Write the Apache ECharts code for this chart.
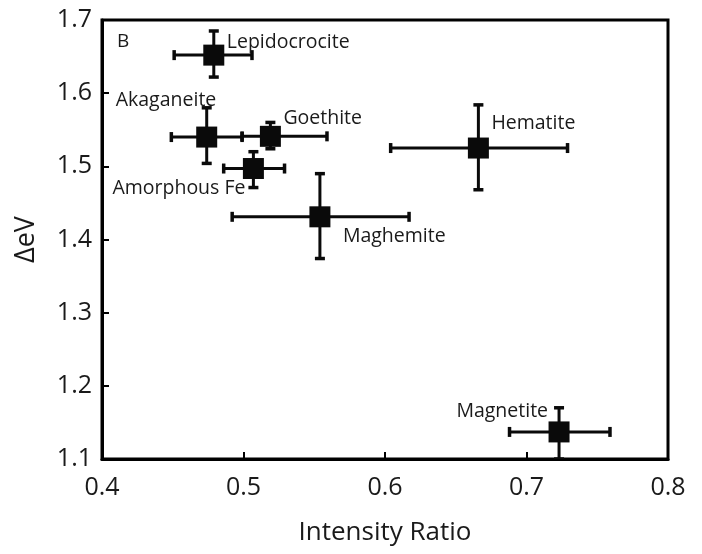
<!DOCTYPE html>
<html>
<head>
<meta charset="utf-8">
<script src="https://cdn.jsdelivr.net/npm/echarts@6/dist/echarts.min.js"></script>
<style>html,body{margin:0;padding:0;background:#fff;}#chart{width:702px;height:554px;}</style>
</head>
<body>
<div id="chart"></div>
<script>
// ---- data ----
var names    = ['Lepidocrocite', 'Akaganeite', 'Goethite', 'Amorphous Fe', 'Hematite', 'Maghemite', 'Magnetite'];
var ratio    = [0.479, 0.474, 0.519, 0.507, 0.666, 0.554, 0.723];
var ratioLo  = [0.451, 0.449, 0.499, 0.486, 0.604, 0.492, 0.688];
var ratioHi  = [0.506, 0.499, 0.559, 0.529, 0.729, 0.617, 0.759];
var deltaEV  = [1.652, 1.540, 1.541, 1.497, 1.525, 1.431, 1.137];
var deltaLo  = [1.622, 1.504, 1.524, 1.471, 1.468, 1.374, 1.100];
var deltaHi  = [1.685, 1.580, 1.560, 1.520, 1.584, 1.490, 1.170];
var xTicks   = [0.4, 0.5, 0.6, 0.7, 0.8];
var yTicks   = [1.1, 1.2, 1.3, 1.4, 1.5, 1.6, 1.7];
var panelLabel = 'B';

// ---- label placement (style only) ----
var labelOffsets = [[13, -13], [-91, -37], [13, -18], [-141, 20], [13, -25], [23, 20], [-11, -20]];
var labelAligns  = ['left', 'left', 'left', 'left', 'left', 'left', 'right'];

var chart = echarts.init(document.getElementById('chart'), null, {renderer: 'canvas'});

var errData = names.map(function (n, i) {
  return [ratio[i], deltaEV[i], ratioLo[i], ratioHi[i], deltaLo[i], deltaHi[i]];
});
var ptData = names.map(function (n, i) {
  return {
    name: n,
    value: [ratio[i], deltaEV[i]],
    label: { offset: labelOffsets[i], align: labelAligns[i] }
  };
});

var FONT = '"Open Sans", "Noto Sans", sans-serif';

function renderErr(params, api) {
  var c  = api.coord([api.value(0), api.value(1)]);
  var xl = api.coord([api.value(2), api.value(1)]);
  var xh = api.coord([api.value(3), api.value(1)]);
  var yl = api.coord([api.value(0), api.value(4)]);
  var yh = api.coord([api.value(0), api.value(5)]);
  var cap = 5;
  var st = { stroke: '#0a0a0a', lineWidth: 3 };
  var capSt = { stroke: '#0a0a0a', lineWidth: 3.5 };
  return {
    type: 'group',
    children: [
      { type: 'line', shape: { x1: xl[0], y1: c[1], x2: xh[0], y2: c[1] }, style: st },
      { type: 'line', shape: { x1: c[0], y1: yl[1], x2: c[0], y2: yh[1] }, style: st },
      { type: 'line', shape: { x1: xl[0], y1: c[1] - cap, x2: xl[0], y2: c[1] + cap }, style: capSt },
      { type: 'line', shape: { x1: xh[0], y1: c[1] - cap, x2: xh[0], y2: c[1] + cap }, style: capSt },
      { type: 'line', shape: { x1: c[0] - cap, y1: yl[1], x2: c[0] + cap, y2: yl[1] }, style: capSt },
      { type: 'line', shape: { x1: c[0] - cap, y1: yh[1], x2: c[0] + cap, y2: yh[1] }, style: capSt }
    ]
  };
}

var option = {
  backgroundColor: '#fff',
  animation: false,
  title: {
    text: panelLabel,
    left: 112, top: 27,
    textStyle: { fontFamily: FONT, fontSize: 19, fontWeight: 'normal', color: '#1a1a1a' }
  },
  grid: {
    left: 102, right: 34, top: 20, bottom: 95,
    show: true, borderColor: '#000', borderWidth: 3, backgroundColor: 'transparent'
  },
  xAxis: {
    type: 'value',
    min: xTicks[0], max: xTicks[xTicks.length - 1], interval: 0.1,
    name: 'Intensity Ratio',
    nameLocation: 'middle', nameGap: 61,
    nameTextStyle: { fontFamily: FONT, fontSize: 26, color: '#1a1a1a' },
    axisLine: { show: true, lineStyle: { color: '#000', width: 3 } },
    axisTick: { show: true, inside: true, length: 7, lineStyle: { color: '#000', width: 2 } },
    axisLabel: { margin: 16, fontFamily: FONT, fontSize: 25, color: '#1a1a1a',
      formatter: function (v) { return v.toFixed(1); } },
    splitLine: { show: false }
  },
  yAxis: {
    type: 'value',
    min: yTicks[0], max: yTicks[yTicks.length - 1], interval: 0.1,
    name: '\u0394eV',
    nameLocation: 'middle', nameGap: 62, nameRotate: 90,
    nameTextStyle: { fontFamily: FONT, fontSize: 27, color: '#1a1a1a' },
    axisLine: { show: true, lineStyle: { color: '#000', width: 3 } },
    axisTick: { show: true, inside: true, length: 7, lineStyle: { color: '#000', width: 2 } },
    axisLabel: { margin: 10, fontFamily: FONT, fontSize: 25, color: '#1a1a1a',
      formatter: function (v) { return v.toFixed(1); } },
    splitLine: { show: false }
  },
  series: [
    {
      type: 'custom',
      renderItem: renderErr,
      data: errData,
      z: 2,
      clip: true
    },
    {
      type: 'scatter',
      data: ptData,
      symbol: 'rect',
      symbolSize: 21,
      itemStyle: { color: '#0a0a0a', opacity: 1 },
      z: 3,
      label: {
        show: true,
        position: 'inside',
        verticalAlign: 'middle',
        formatter: '{b}',
        fontFamily: FONT,
        fontSize: 19.5,
        color: '#1a1a1a'
      }
    }
  ]
};
chart.setOption(option);
</script>
</body>
</html>
